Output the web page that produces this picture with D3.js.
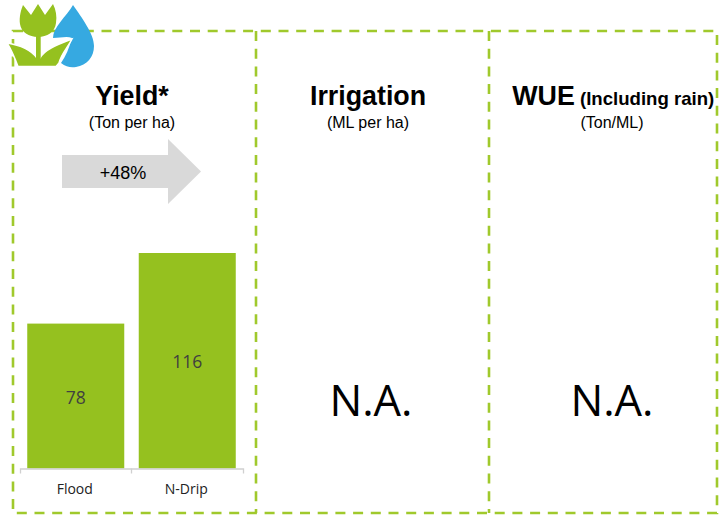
<!DOCTYPE html>
<html>
<head>
<meta charset="utf-8">
<script src="https://cdn.jsdelivr.net/npm/d3@7"></script>
<style>
  html, body { margin: 0; padding: 0; background: #fff; }
  svg { display: block; }
  text { font-family: "Liberation Sans", Arial, sans-serif; fill: #000; }
</style>
</head>
<body>
<svg width="725" height="515"></svg>
<script>
const categories = ['Flood', 'N-Drip'];
const yieldValues = [78, 116];
const panelTitles = ['Yield*', 'Irrigation', 'WUE'];
const panelUnits = ['(Ton per ha)', '(ML per ha)', '(Ton/ML)'];
const missingPanels = ['Irrigation', 'WUE'];
const changeLabel = '+48%';

const green = '#95c11f';
const blue = '#36a9e1';

const svg = d3.select('svg');

// dashed frame
const frame = svg.append('g')
  .attr('fill', 'none')
  .attr('stroke', '#a0c92c')
  .attr('stroke-width', 2.6)
  .attr('stroke-dasharray', '10 7.7');
frame.append('rect').attr('x', 13).attr('y', 31).attr('width', 704).attr('height', 482);
frame.append('line').attr('x1', 256).attr('x2', 256).attr('y1', 31).attr('y2', 513);
frame.append('line').attr('x1', 489).attr('x2', 489).attr('y1', 31).attr('y2', 513);

// icon
const icon = svg.append('g');
icon.append('path')
  .attr('fill', blue)
  .attr('d', 'M73 5 C66 17 53 27 53 38 C60 38 67 36 72 38 C69 48 66 56 61 63 C66 67 71 68 76 67 C87 65 94 57 94 46 C94 34 82 18 73 5 Z');
// leaves
icon.append('path')
  .attr('fill', green)
  .attr('stroke', '#fff')
  .attr('stroke-width', 1.5)
  .attr('d', 'M7 43 C20 45 31 50 37 58 H40 C44 50 56 45 72 39 C68 47 61 54 59 63 L56 66.5 H18 C14 56 11 49 7 43 Z');
// stem
icon.append('rect')
  .attr('x', 36).attr('y', 34).attr('width', 4.7).attr('height', 30)
  .attr('fill', green);
// flower head
icon.append('path')
  .attr('fill', green)
  .attr('d', 'M23 5 L31 15 L38 4 L45 15 L53 4 C56 10 57 16 56 23 C55 32 47 37 38 37 C29 37 21 32 20 24 C19 17 21 10 23 5 Z');

// titles
const titleX = [132, 368, 543.5];
panelTitles.forEach((t, i) => {
  svg.append('text')
    .attr('x', titleX[i]).attr('y', 105)
    .attr('text-anchor', 'middle')
    .attr('font-size', 26.8).attr('font-weight', 'bold')
    .text(t);
});
svg.append('text')
  .attr('x', 580).attr('y', 105)
  .attr('font-size', 18.6).attr('font-weight', 'bold')
  .text('(Including rain)');
const unitX = [132, 368, 612];
panelUnits.forEach((t, i) => {
  svg.append('text')
    .attr('x', unitX[i]).attr('y', 127.5)
    .attr('text-anchor', 'middle')
    .attr('font-size', 16).attr('fill', '#222')
    .text(t);
});

// arrow
svg.append('path')
  .attr('fill', '#d9d9d9')
  .attr('d', d3.line()([[62, 155], [168, 155], [168, 139], [201, 171.5], [168, 204], [168, 188], [62, 188]]) + 'Z');
svg.append('text')
  .attr('x', 123).attr('y', 179)
  .attr('text-anchor', 'middle')
  .attr('font-size', 18).attr('fill', '#222')
  .text(changeLabel);

// bars
const x = d3.scaleBand().domain(categories).range([20, 243]).paddingInner(0.13).paddingOuter(0.065);
const y = d3.scaleLinear().domain([0, 116]).range([468.5, 253]);

svg.append('g')
  .selectAll('rect')
  .data(yieldValues)
  .join('rect')
  .attr('x', (d, i) => x(categories[i]))
  .attr('y', d => y(d))
  .attr('width', x.bandwidth())
  .attr('height', d => y(0) - y(d))
  .attr('fill', green);

svg.append('g')
  .selectAll('text')
  .data(yieldValues)
  .join('text')
  .attr('x', (d, i) => x(categories[i]) + x.bandwidth() / 2)
  .attr('y', d => (y(d) + y(0)) / 2 + 7.5)
  .attr('text-anchor', 'middle')
  .attr('font-size', 17.5)
  .style('font-family', '"Open Sans", sans-serif')
  .style('fill', '#404040')
  .text(d => d);

// axis
const axis = svg.append('g')
  .attr('transform', 'translate(0,468.5)')
  .call(d3.axisBottom(x).tickSizeInner(0).tickSizeOuter(5).tickPadding(16));
axis.select('.domain').attr('stroke', '#d0d0d0').attr('stroke-width', 1.3);
axis.selectAll('.tick line').remove();
axis.append('line')
  .attr('x1', x.step() + 20).attr('x2', x.step() + 20)
  .attr('y1', 0).attr('y2', 5)
  .attr('stroke', '#d0d0d0').attr('stroke-width', 1.3);
axis.selectAll('.tick text')
  .attr('dx', -1)
  .style('font-family', '"Open Sans", sans-serif')
  .style('font-size', '14px')
  .style('fill', '#222');

// N.A. panels
const naX = [371, 612];
missingPanels.forEach((p, i) => {
  svg.append('text')
    .attr('x', naX[i]).attr('y', 416)
    .attr('text-anchor', 'middle')
    .attr('font-size', 43.5)
    .style('font-family', '"Open Sans", sans-serif')
    .text('N.A.');
});
</script>
</body>
</html>
